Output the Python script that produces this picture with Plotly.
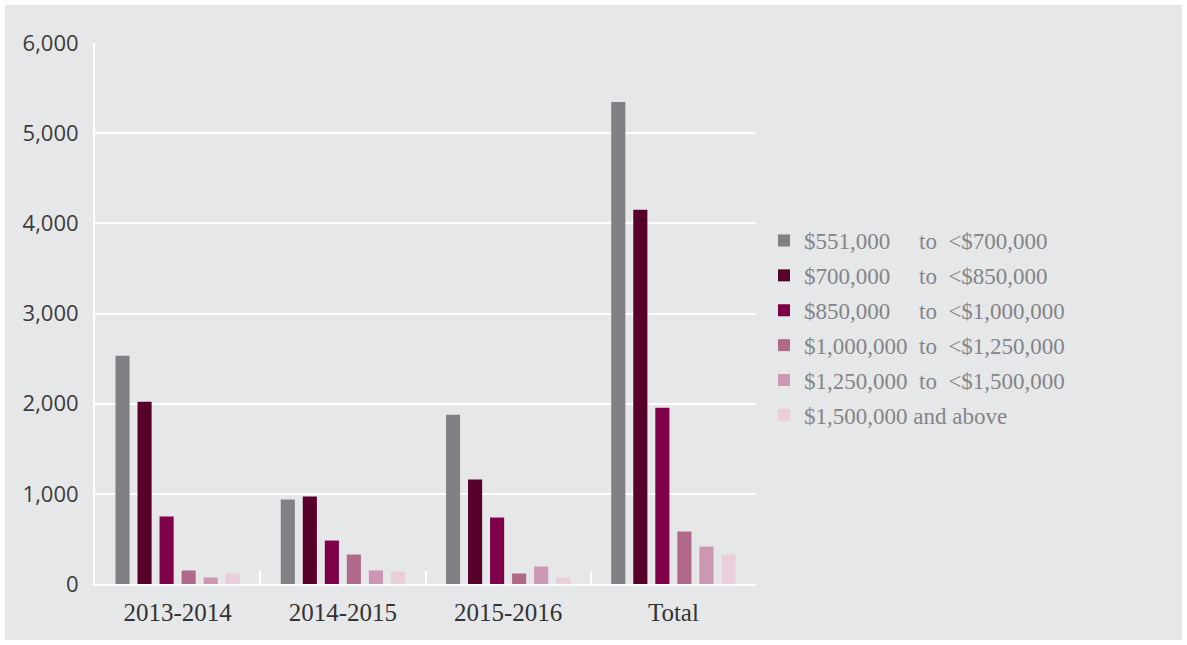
import plotly.graph_objects as go

categories = ["2013-2014", "2014-2015", "2015-2016", "Total"]
series_names = [
    "$551,000     to  <$700,000",
    "$700,000     to  <$850,000",
    "$850,000     to  <$1,000,000",
    "$1,000,000  to  <$1,250,000",
    "$1,250,000  to  <$1,500,000",
    "$1,500,000 and above",
]
series_values = [
    [2532, 936, 1878, 5346],
    [2022, 970, 1158, 4150],
    [748, 482, 737, 1956],
    [150, 327, 117, 582],
    [72, 150, 194, 415],
    [117, 139, 72, 327],
]
colors = ["#808184", "#570029", "#7d0048", "#b0698b", "#cb97b3", "#e8cfdb"]
y_ticks = [0, 1000, 2000, 3000, 4000, 5000, 6000]
y_tick_labels = ["0", "1,000", "2,000", "3,000", "4,000", "5,000", "6,000"]

fig = go.Figure()
for i, (name, vals, col) in enumerate(zip(series_names, series_values, colors)):
    fig.add_trace(go.Bar(
        x=categories, y=vals, name=name, marker=dict(color=col, line=dict(width=0)),
        legendgroup=f"g{i}",
    ))

W, H = 1187, 645
L, R, T, B = 95, 431, 43, 61
pw, ph = W - L - R, H - T - B

fig.update_layout(
    width=W, height=H,
    margin=dict(l=L, r=R, t=T, b=B),
    paper_bgcolor="#e6e7e9",
    plot_bgcolor="#e6e7e9",
    barmode="group",
    bargap=0.2,
    bargroupgap=0.36,
    font=dict(family="Liberation Serif", size=20, color="#3a3a3a"),
    showlegend=True,
    legend=dict(
        x=(764 - 95) / pw, y=(584 - 328) / ph, xanchor="left", yanchor="middle",
        font=dict(family="Liberation Serif", size=23, color="#848588"),
        bgcolor="rgba(0,0,0,0)", tracegroupgap=2, itemwidth=30,
    ),
    xaxis=dict(
        showgrid=False, showline=True, linecolor="white", linewidth=2,
        tickson="boundaries", ticks="inside", ticklen=13, tickcolor="white", tickwidth=2,
        tickfont=dict(family="Liberation Serif", size=25, color="#333333"),
        ticklabelstandoff=5,
    ),
    yaxis=dict(
        range=[0, 6000], tickvals=y_ticks, ticktext=y_tick_labels,
        showgrid=True, gridcolor="white", gridwidth=2,
        showline=True, linecolor="white", linewidth=2, zeroline=False,
        ticks="", ticklabelstandoff=10,
        tickfont=dict(family="Open Sans", size=22, color="#3c3c3c"),
    ),
    shapes=[dict(
        type="rect", xref="paper", yref="paper",
        x0=-L / pw, x1=(W - L) / pw, y0=-B / ph, y1=(H - B) / ph,
        line=dict(color="white", width=10), fillcolor="rgba(0,0,0,0)", layer="above",
    )],
)

fig.write_html("out.html")
